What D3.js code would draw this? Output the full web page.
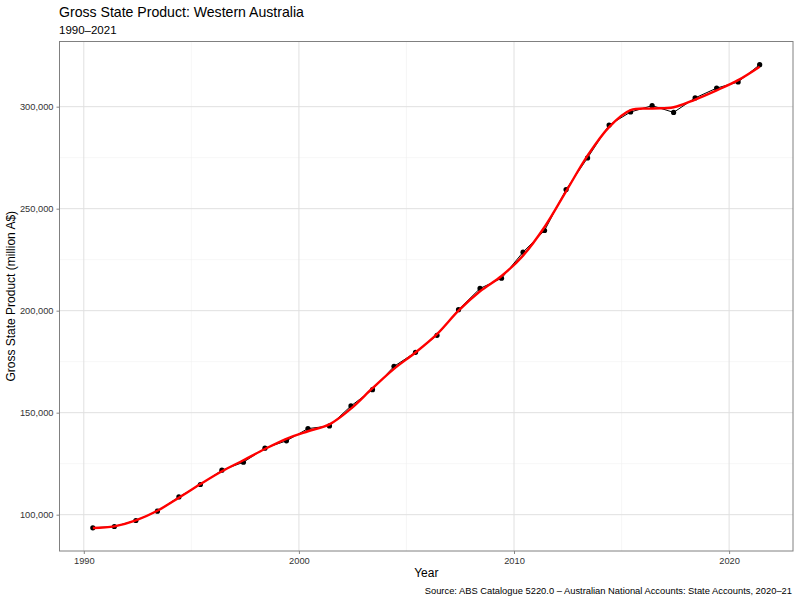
<!DOCTYPE html>
<html><head><meta charset="utf-8">
<script src="https://cdn.jsdelivr.net/npm/d3@7"></script>
<style>body{margin:0;background:#fff}text{font-family:"Liberation Sans",Arial,Helvetica,sans-serif}</style>
</head><body>
<svg id="c" width="800" height="600"></svg>
<script>
const years = [1990,1991,1992,1993,1994,1995,1996,1997,1998,1999,2000,2001,2002,2003,2004,2005,2006,2007,2008,2009,2010,2011,2012,2013,2014,2015,2016,2017,2018,2019,2020,2021];
const gsp = [93550,94200,97150,101700,108700,114800,121800,125700,132600,136200,142200,143500,153300,161300,172700,179600,187900,200500,210900,215900,228700,239300,259400,274900,291000,297400,300500,297200,304300,309100,312100,320600];
const smooth = [93500,94300,97200,101900,108300,115000,121300,126700,132200,137200,140900,144300,152000,162000,171500,179500,188500,200000,209500,217000,227000,241000,258500,276000,290000,298300,299100,299700,303500,308000,313000,319600];
const xTicks = [1990,2000,2010,2020];
const xMinor = [1995,2005,2015];
const yTicks = [100000,150000,200000,250000,300000];
const yMinor = [125000,175000,225000,275000];
const titleText = "Gross State Product: Western Australia";
const subtitleText = "1990–2021";
const xTitle = "Year";
const yTitle = "Gross State Product (million A$)";
const captionText = "Source: ABS Catalogue 5220.0 – Australian National Accounts: State Accounts, 2020–21";

const svg = d3.select("#c");
const L = 59.5, R = 793, T = 41.5, B = 551;
const off = 0.42; // fiscal-year position offset
const xs = years.map(y => y + off);
const xr = d3.extent(xs), xp = (xr[1]-xr[0])*0.05;
const x = d3.scaleLinear().domain([xr[0]-xp, xr[1]+xp]).range([L, R]);
const yr = d3.extent(gsp), ypd = (yr[1]-yr[0])*0.05;
const y = d3.scaleLinear().domain([yr[0]-ypd, yr[1]+ypd]).range([B, T]);

const g = svg.append("g");
g.selectAll(".xm").data(xMinor).join("line").attr("x1",d=>x(d)).attr("x2",d=>x(d)).attr("y1",T).attr("y2",B).attr("stroke","#f0f0f0").attr("stroke-width",0.6);
g.selectAll(".ym").data(yMinor).join("line").attr("y1",d=>y(d)).attr("y2",d=>y(d)).attr("x1",L).attr("x2",R).attr("stroke","#f0f0f0").attr("stroke-width",0.6);
g.selectAll(".xg").data(xTicks).join("line").attr("x1",d=>x(d)).attr("x2",d=>x(d)).attr("y1",T).attr("y2",B).attr("stroke","#e0e0e0").attr("stroke-width",1);
g.selectAll(".yg").data(yTicks).join("line").attr("y1",d=>y(d)).attr("y2",d=>y(d)).attr("x1",L).attr("x2",R).attr("stroke","#e0e0e0").attr("stroke-width",1);

const xAxis = d3.axisBottom(x).tickValues(xTicks).tickFormat(d3.format("d")).tickSize(3).tickPadding(3);
const yAxis = d3.axisLeft(y).tickValues(yTicks).tickFormat(d3.format(",")).tickSize(3).tickPadding(3);
const gx = svg.append("g").attr("transform",`translate(0,${B})`).call(xAxis);
const gy = svg.append("g").attr("transform",`translate(${L},0)`).call(yAxis);
[gx,gy].forEach(a=>{
  a.select(".domain").remove();
  a.selectAll(".tick line").attr("stroke","#888");
  a.selectAll(".tick text").attr("fill","#333").style("font-size","9.3px");
});

const line = d3.line().x((d,i)=>x(xs[i])).y(d=>y(d));
svg.append("path").datum(gsp).attr("d",line).attr("fill","none").attr("stroke","#000").attr("stroke-width",1);
svg.selectAll(".pt").data(gsp).join("circle").attr("cx",(d,i)=>x(xs[i])).attr("cy",d=>y(d)).attr("r",2.6).attr("fill","#000");
const sl = d3.line().x((d,i)=>x(xs[i])).y(d=>y(d)).curve(d3.curveCatmullRom.alpha(0.5));
svg.append("path").datum(smooth).attr("d",sl).attr("fill","none").attr("stroke","#ff0000").attr("stroke-width",2.4);

svg.append("rect").attr("x",L).attr("y",T).attr("width",R-L).attr("height",B-T).attr("fill","none").attr("stroke","#808080").attr("stroke-width",1);

svg.append("text").attr("x",59).attr("y",17).text(titleText).style("font-size","14.1px").attr("fill","#000");
svg.append("text").attr("x",59).attr("y",34).text(subtitleText).style("font-size","11.5px").attr("fill","#000");
svg.append("text").attr("x",(L+R)/2).attr("y",577).attr("text-anchor","middle").text(xTitle).style("font-size","12px");
svg.append("text").attr("transform",`translate(15,${(T+B)/2}) rotate(-90)`).attr("text-anchor","middle").text(yTitle).style("font-size","12px");
svg.append("text").attr("x",792).attr("y",594).attr("text-anchor","end").text(captionText).style("font-size","9.35px");
</script>
</body></html>
